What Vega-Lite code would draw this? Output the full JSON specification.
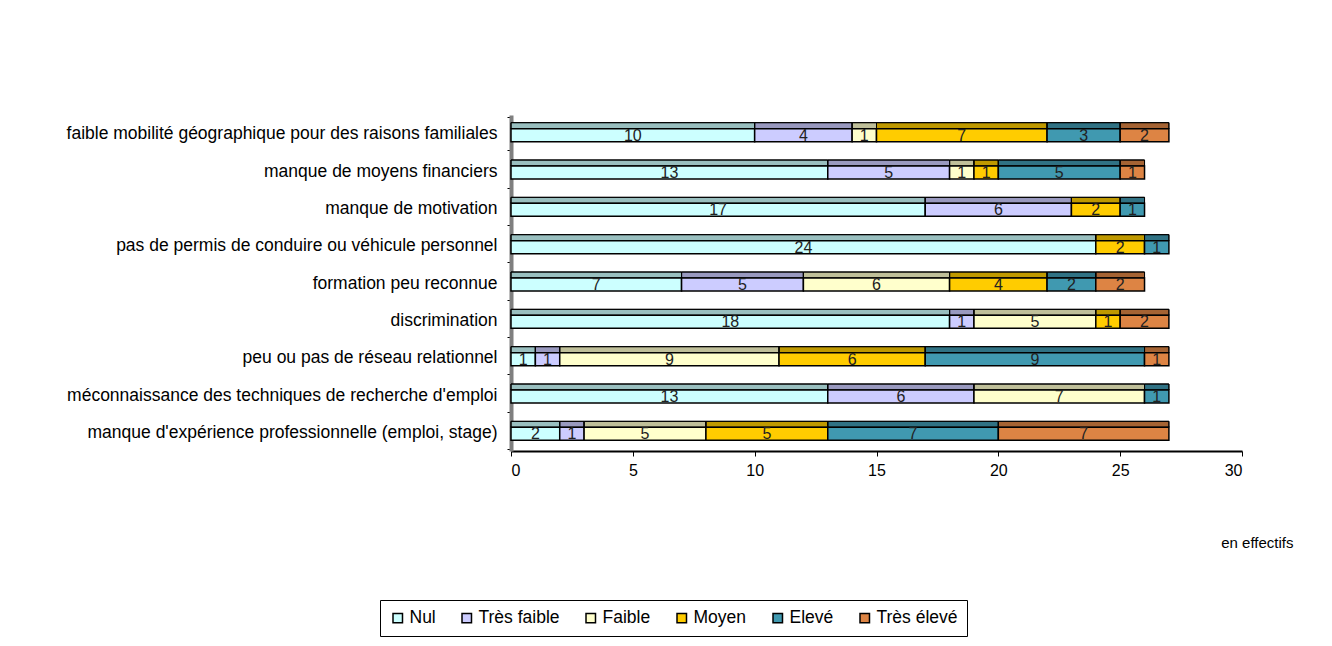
{
  "$schema": "https://vega.github.io/schema/vega-lite/v6.json",
  "width": 731,
  "height": 336,
  "autosize": {"type": "none"},
  "padding": {"left": 511, "top": 115, "right": 90, "bottom": 195},
  "background": "white",
  "config": {
    "view": {"stroke": null},
    "font": "Liberation Sans",
    "axis": {"labelFont": "Liberation Sans", "titleFont": "Liberation Sans", "labelColor": "black", "grid": false},
    "legend": {"labelFont": "Liberation Sans"}
  },
  "data": {
    "values": [
      {"cause": "faible mobilité géographique pour des raisons familiales", "niveau": "Nul", "ordre": 1, "n": 10},
      {"cause": "faible mobilité géographique pour des raisons familiales", "niveau": "Très faible", "ordre": 2, "n": 4},
      {"cause": "faible mobilité géographique pour des raisons familiales", "niveau": "Faible", "ordre": 3, "n": 1},
      {"cause": "faible mobilité géographique pour des raisons familiales", "niveau": "Moyen", "ordre": 4, "n": 7},
      {"cause": "faible mobilité géographique pour des raisons familiales", "niveau": "Elevé", "ordre": 5, "n": 3},
      {"cause": "faible mobilité géographique pour des raisons familiales", "niveau": "Très élevé", "ordre": 6, "n": 2},
      {"cause": "manque de moyens financiers", "niveau": "Nul", "ordre": 1, "n": 13},
      {"cause": "manque de moyens financiers", "niveau": "Très faible", "ordre": 2, "n": 5},
      {"cause": "manque de moyens financiers", "niveau": "Faible", "ordre": 3, "n": 1},
      {"cause": "manque de moyens financiers", "niveau": "Moyen", "ordre": 4, "n": 1},
      {"cause": "manque de moyens financiers", "niveau": "Elevé", "ordre": 5, "n": 5},
      {"cause": "manque de moyens financiers", "niveau": "Très élevé", "ordre": 6, "n": 1},
      {"cause": "manque de motivation", "niveau": "Nul", "ordre": 1, "n": 17},
      {"cause": "manque de motivation", "niveau": "Très faible", "ordre": 2, "n": 6},
      {"cause": "manque de motivation", "niveau": "Moyen", "ordre": 4, "n": 2},
      {"cause": "manque de motivation", "niveau": "Elevé", "ordre": 5, "n": 1},
      {"cause": "pas de permis de conduire ou véhicule personnel", "niveau": "Nul", "ordre": 1, "n": 24},
      {"cause": "pas de permis de conduire ou véhicule personnel", "niveau": "Moyen", "ordre": 4, "n": 2},
      {"cause": "pas de permis de conduire ou véhicule personnel", "niveau": "Elevé", "ordre": 5, "n": 1},
      {"cause": "formation peu reconnue", "niveau": "Nul", "ordre": 1, "n": 7},
      {"cause": "formation peu reconnue", "niveau": "Très faible", "ordre": 2, "n": 5},
      {"cause": "formation peu reconnue", "niveau": "Faible", "ordre": 3, "n": 6},
      {"cause": "formation peu reconnue", "niveau": "Moyen", "ordre": 4, "n": 4},
      {"cause": "formation peu reconnue", "niveau": "Elevé", "ordre": 5, "n": 2},
      {"cause": "formation peu reconnue", "niveau": "Très élevé", "ordre": 6, "n": 2},
      {"cause": "discrimination", "niveau": "Nul", "ordre": 1, "n": 18},
      {"cause": "discrimination", "niveau": "Très faible", "ordre": 2, "n": 1},
      {"cause": "discrimination", "niveau": "Faible", "ordre": 3, "n": 5},
      {"cause": "discrimination", "niveau": "Moyen", "ordre": 4, "n": 1},
      {"cause": "discrimination", "niveau": "Très élevé", "ordre": 6, "n": 2},
      {"cause": "peu ou pas de réseau relationnel", "niveau": "Nul", "ordre": 1, "n": 1},
      {"cause": "peu ou pas de réseau relationnel", "niveau": "Très faible", "ordre": 2, "n": 1},
      {"cause": "peu ou pas de réseau relationnel", "niveau": "Faible", "ordre": 3, "n": 9},
      {"cause": "peu ou pas de réseau relationnel", "niveau": "Moyen", "ordre": 4, "n": 6},
      {"cause": "peu ou pas de réseau relationnel", "niveau": "Elevé", "ordre": 5, "n": 9},
      {"cause": "peu ou pas de réseau relationnel", "niveau": "Très élevé", "ordre": 6, "n": 1},
      {"cause": "méconnaissance des techniques de recherche d'emploi", "niveau": "Nul", "ordre": 1, "n": 13},
      {"cause": "méconnaissance des techniques de recherche d'emploi", "niveau": "Très faible", "ordre": 2, "n": 6},
      {"cause": "méconnaissance des techniques de recherche d'emploi", "niveau": "Faible", "ordre": 3, "n": 7},
      {"cause": "méconnaissance des techniques de recherche d'emploi", "niveau": "Elevé", "ordre": 5, "n": 1},
      {"cause": "manque d'expérience professionnelle (emploi, stage)", "niveau": "Nul", "ordre": 1, "n": 2},
      {"cause": "manque d'expérience professionnelle (emploi, stage)", "niveau": "Très faible", "ordre": 2, "n": 1},
      {"cause": "manque d'expérience professionnelle (emploi, stage)", "niveau": "Faible", "ordre": 3, "n": 5},
      {"cause": "manque d'expérience professionnelle (emploi, stage)", "niveau": "Moyen", "ordre": 4, "n": 5},
      {"cause": "manque d'expérience professionnelle (emploi, stage)", "niveau": "Elevé", "ordre": 5, "n": 7},
      {"cause": "manque d'expérience professionnelle (emploi, stage)", "niveau": "Très élevé", "ordre": 6, "n": 7}
    ]
  },
  "transform": [
    {"stack": "n", "groupby": ["cause"], "sort": [{"field": "ordre", "order": "ascending"}], "as": ["x0", "x1"]},
    {"calculate": "(datum.x0 + datum.x1) / 2", "as": "xm"}
  ],
  "encoding": {
    "y": {
      "field": "cause",
      "type": "nominal",
      "sort": [
        "faible mobilité géographique pour des raisons familiales",
        "manque de moyens financiers",
        "manque de motivation",
        "pas de permis de conduire ou véhicule personnel",
        "formation peu reconnue",
        "discrimination",
        "peu ou pas de réseau relationnel",
        "méconnaissance des techniques de recherche d'emploi",
        "manque d'expérience professionnelle (emploi, stage)"
      ],
      "axis": {
        "title": null,
        "labelFontSize": 17.5,
        "labelPadding": 10,
        "labelLimit": 500,
        "tickColor": "black",
        "tickSize": 4,
        "tickBand": "extent",
        "domainColor": "#7f7f7f",
        "domainWidth": 4
      }
    }
  },
  "layer": [
    {
      "mark": {"type": "bar", "height": 6, "yOffset": -8, "stroke": "black", "strokeWidth": 1},
      "encoding": {
        "x": {"field": "x0", "type": "quantitative", "scale": {"domain": [0, 30]},
          "axis": {"values": [0, 5, 10, 15, 20, 25, 30], "title": "en effectifs", "labelFontSize": 16, "labelPadding": 6, "tickSize": 5, "tickColor": "black", "domainColor": "black", "domainWidth": 2,
            "titleFontSize": 15, "titleFontWeight": "normal", "titleAlign": "right", "titleAnchor": "end", "titleX": 782, "titleY": 84, "titleColor": "black"}},
        "x2": {"field": "x1"},
        "color": {"field": "niveau", "type": "nominal",
          "scale": {"domain": ["Nul", "Très faible", "Faible", "Moyen", "Elevé", "Très élevé"],
            "range": ["#CCFFFF", "#CCCCFF", "#FFFFCC", "#FFCC00", "#4099B0", "#DD8444"]},
          "legend": {"orient": "none", "legendX": -131, "legendY": 485, "direction": "horizontal", "title": null,
            "symbolType": "square", "symbolSize": 90, "symbolStrokeColor": "black", "symbolStrokeWidth": 1.5, "symbolOpacity": 1,
            "labelFontSize": 17.5, "labelColor": "black", "columnPadding": 22, "labelOffset": 3,
            "strokeColor": "black", "padding": 9, "fillColor": "white"}}
      }
    },
    {
      "mark": {"type": "bar", "height": 6, "yOffset": -8, "fill": "black", "fillOpacity": 0.25, "stroke": "black", "strokeWidth": 1},
      "encoding": {
        "x": {"field": "x0", "type": "quantitative"},
        "x2": {"field": "x1"}
      }
    },
    {
      "mark": {"type": "bar", "height": 13, "yOffset": 1.5, "stroke": "black", "strokeWidth": 1.5},
      "encoding": {
        "x": {"field": "x0", "type": "quantitative"},
        "x2": {"field": "x1"},
        "color": {"field": "niveau", "type": "nominal"}
      }
    },
    {
      "mark": {"type": "text", "fontSize": 16, "color": "#222", "yOffset": 2, "baseline": "middle"},
      "encoding": {
        "x": {"field": "xm", "type": "quantitative"},
        "text": {"field": "n", "type": "quantitative"}
      }
    }
  ]
}
